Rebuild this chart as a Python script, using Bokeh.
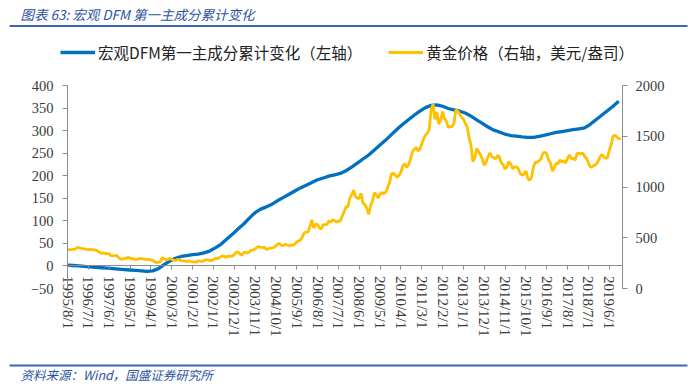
import numpy as np
import pandas as pd
from bokeh.plotting import figure
from bokeh.models import (Range1d, LinearAxis, FixedTicker, Legend, LegendItem, Label,
                          BoxAnnotation, ColumnDataSource)
from bokeh.embed import file_html
from bokeh.resources import INLINE

# ---------------- data ----------------
START = "1995-08-01"
END = "2019-12-01"

tick_labels = ["1995/8/1", "1996/7/1", "1997/6/1", "1998/5/1", "1999/4/1", "2000/3/1",
               "2001/2/1", "2002/1/1", "2002/12/1", "2003/11/1", "2004/10/1", "2005/9/1",
               "2006/8/1", "2007/7/1", "2008/6/1", "2009/5/1", "2010/4/1", "2011/3/1",
               "2012/2/1", "2013/1/1", "2013/12/1", "2014/11/1", "2015/10/1", "2016/9/1",
               "2017/8/1", "2018/7/1", "2019/6/1"]

left_ticks = [-50, 0, 50, 100, 150, 200, 250, 300, 350, 400]
right_ticks = [0, 500, 1000, 1500, 2000]

# gold price, USD/oz, monthly (1995/8 .. 2019/12)
gold_1995 = [383, 383, 383, 386, 387]
gold_1996 = [400, 405, 396, 393, 392, 385, 383, 387, 383, 381, 378, 369]
gold_1997 = [355, 346, 352, 344, 344, 341, 324, 324, 323, 325, 306, 289]
gold_1998 = [289, 297, 296, 308, 299, 292, 293, 284, 289, 296, 294, 291]
gold_1999 = [287, 287, 286, 282, 277, 262, 256, 257, 265, 305, 293, 284]
gold_2000 = [284, 300, 286, 280, 275, 286, 282, 275, 273, 270, 266, 272]
gold_2001 = [266, 262, 263, 261, 272, 270, 268, 273, 283, 283, 276, 276]
gold_2002 = [282, 296, 294, 302, 314, 321, 314, 310, 319, 317, 319, 333]
gold_2003 = [357, 359, 340, 328, 355, 356, 351, 360, 379, 379, 390, 407]
gold_2004 = [414, 405, 406, 404, 384, 392, 398, 401, 406, 420, 439, 442]
gold_2005 = [424, 423, 434, 429, 422, 430, 424, 438, 456, 470, 476, 510]
gold_2006 = [549, 555, 557, 610, 676, 596, 633, 632, 598, 586, 628, 629]
gold_2007 = [631, 665, 655, 679, 667, 655, 665, 665, 712, 754, 806, 803]
gold_2008 = [889, 922, 968, 909, 888, 889, 939, 839, 829, 790, 730, 816]
gold_2009 = [858, 943, 924, 890, 928, 946, 934, 949, 996, 1043, 1127, 1134]
gold_2010 = [1118, 1095, 1113, 1148, 1205, 1232, 1193, 1215, 1271, 1342, 1370, 1391]
gold_2011 = [1356, 1372, 1424, 1474, 1512, 1529, 1573, 1765, 1815, 1666, 1739, 1620]
gold_2012 = [1656, 1743, 1674, 1650, 1585, 1596, 1594, 1626, 1760, 1747, 1722, 1685]
gold_2013 = [1671, 1627, 1593, 1487, 1414, 1250, 1286, 1380, 1349, 1316, 1275, 1215]
gold_2014 = [1244, 1300, 1336, 1299, 1287, 1279, 1311, 1296, 1239, 1222, 1176, 1201]
gold_2015 = [1251, 1227, 1179, 1198, 1199, 1181, 1131, 1117, 1125, 1159, 1086, 1065]
gold_2016 = [1097, 1200, 1246, 1243, 1260, 1276, 1337, 1341, 1326, 1266, 1238, 1157]
gold_2017 = [1192, 1234, 1231, 1266, 1246, 1260, 1236, 1283, 1315, 1280, 1282, 1265]
gold_2018 = [1331, 1331, 1325, 1335, 1303, 1282, 1238, 1195, 1199, 1215, 1221, 1250]
gold_2019 = [1291, 1320, 1301, 1285, 1284, 1359, 1413, 1500, 1511, 1495, 1471, 1480]

# DFM first principal component, cumulative change, quarterly from 1995/8
dfm_values = [2, 1, 0, -1, -2, -3, -4, -5, -6, -7, -8, -9, -10, -11, -12, -11,
              -6, 3, 11, 17, 21, 23, 25, 26, 29, 33, 40, 48, 59, 70, 82, 93,
              106, 118, 126, 131, 137, 145, 152, 159, 166, 173, 179, 185, 191, 195, 199, 202,
              205, 211, 219, 228, 237, 246, 257, 268, 279, 291, 303, 314, 324, 334, 343, 351,
              356, 357, 354, 349, 346, 343, 339, 332, 324, 316, 308, 301, 297, 292, 289, 288,
              286, 285, 285, 287, 290, 293, 296, 298, 300, 302, 304, 306, 314, 324, 334, 344,
              354, 365]

TITLE = "图表 63: 宏观 DFM 第一主成分累计变化"
SOURCE = "资料来源：Wind，国盛证券研究所"
LEG_DFM = "宏观DFM第一主成分累计变化（左轴）"
LEG_GOLD = "黄金价格（右轴，美元/盎司）"

# ---------------- build ----------------
months = pd.date_range(START, END, freq="MS")
gold = (gold_1995 + gold_1996 + gold_1997 + gold_1998 + gold_1999 + gold_2000 + gold_2001 +
        gold_2002 + gold_2003 + gold_2004 + gold_2005 + gold_2006 + gold_2007 + gold_2008 +
        gold_2009 + gold_2010 + gold_2011 + gold_2012 + gold_2013 + gold_2014 + gold_2015 +
        gold_2016 + gold_2017 + gold_2018 + gold_2019)
gold_x = np.arange(len(gold))
dfm_x = np.arange(len(dfm_values)) * 3

def month_index(lab):
    y, m, d = [int(s) for s in lab.split("/")]
    return (y - months[0].year) * 12 + (m - months[0].month)

tick_pos = [month_index(t) for t in tick_labels]

# ---- layout geometry (pixels; the frame covers the whole figure) ----
W, H = 700, 386
X_END = 293                      # category extent of the plot area
PX_LEFT, PX_RIGHT = 67, 622      # plot area left/right edge
PY_TOP, PY_BOT = 85, 288         # plot area top (400 / 2000) and bottom (-50 / 0)
L_LO, L_HI = -50, 400
R_LO, R_HI = 0, 2000

kx = (PX_RIGHT - PX_LEFT) / X_END
x_start = -PX_LEFT / kx
x_end = X_END + (W - PX_RIGHT) / kx
ky = (PY_BOT - PY_TOP) / (L_HI - L_LO)
yl_start = L_LO - (H - PY_BOT) / ky
yl_end = L_HI + PY_TOP / ky
def l2r(v):
    return R_LO + (v - L_LO) * (R_HI - R_LO) / (L_HI - L_LO)

SERIF = "Liberation Serif"
CJK = "Noto Sans CJK SC"
AXIS_GRAY = "#8c8c8c"
TXT = "#3a3a3a"
BLUE_T = "#2E54A1"
RULE = "#3E66B3"

p = figure(width=W, height=H, x_range=Range1d(x_start, x_end), y_range=Range1d(yl_start, yl_end),
           output_backend="svg", toolbar_location=None, x_axis_type=None, y_axis_type=None,
           min_border_left=0, min_border_right=0, min_border_top=0, min_border_bottom=0)
p.outline_line_color = None
p.background_fill_color = "white"
p.border_fill_color = "white"
p.extra_y_ranges = {"right": Range1d(l2r(yl_start), l2r(yl_end))}

def style_axis(ax, size="14px"):
    ax.axis_line_color = AXIS_GRAY
    ax.major_tick_line_color = AXIS_GRAY
    ax.minor_tick_line_color = None
    ax.major_tick_in = 0
    ax.major_tick_out = 5
    ax.major_label_text_font = SERIF
    ax.major_label_text_font_size = size
    ax.major_label_text_color = TXT

yl = LinearAxis(ticker=FixedTicker(ticks=left_ticks), major_label_overrides={-50: "\u221250"},
                fixed_location=0, bounds=(L_LO, L_HI))
style_axis(yl, "14.5px")
yl.major_label_standoff = 9
p.add_layout(yl, "left")

yr = LinearAxis(y_range_name="right", ticker=FixedTicker(ticks=right_ticks),
                fixed_location=X_END, bounds=(R_LO, R_HI))
style_axis(yr, "14.5px")
yr.major_label_standoff = 8
p.add_layout(yr, "right")

xa = LinearAxis(ticker=FixedTicker(ticks=tick_pos),
                major_label_overrides={pos: lab for pos, lab in zip(tick_pos, tick_labels)},
                fixed_location=0, bounds=(0, X_END), major_label_orientation="vertical")
style_axis(xa, "15px")
xa.major_tick_out = 4
xa.major_label_standoff = 6
p.add_layout(xa, "below")

src_dfm = ColumnDataSource(dict(x=dfm_x, y=dfm_values))
src_gold = ColumnDataSource(dict(x=gold_x, y=gold))
r_blue = p.line("x", "y", source=src_dfm, line_color="#0070C0", line_width=3.3)
r_gold = p.line("x", "y", source=src_gold, line_color="#FFC000", line_width=2.8, y_range_name="right")

legend = Legend(items=[LegendItem(label=LEG_DFM, renderers=[r_blue]),
                       LegendItem(label=LEG_GOLD, renderers=[r_gold])],
                location=(60, H - 63), orientation="horizontal")
legend.background_fill_alpha = 0
legend.border_line_alpha = 0
legend.padding = 0
legend.margin = 0
legend.spacing = 26
legend.label_standoff = 3
legend.glyph_width = 35
legend.glyph_height = 20
legend.label_height = 20
legend.label_text_font = CJK
legend.label_text_font_size = "15.5px"
legend.label_text_color = "#222222"
p.add_layout(legend, "center")

# header / footer rules and texts
p.add_layout(BoxAnnotation(left=9, right=687, top=H - 24.5, bottom=H - 26.5,
                           left_units="screen", right_units="screen",
                           top_units="screen", bottom_units="screen",
                           fill_color=RULE, fill_alpha=1, line_color=None))
p.add_layout(BoxAnnotation(left=9, right=687, top=H - 364, bottom=H - 366,
                           left_units="screen", right_units="screen",
                           top_units="screen", bottom_units="screen",
                           fill_color=RULE, fill_alpha=1, line_color=None))
p.add_layout(Label(x=20, y=H - 13, x_units="screen", y_units="screen", text=TITLE,
                   text_font=CJK, text_font_style="italic", text_font_size="13.5px",
                   text_color=BLUE_T, text_baseline="middle", text_align="left"))
p.add_layout(Label(x=20, y=H - 374, x_units="screen", y_units="screen", text=SOURCE,
                   text_font=CJK, text_font_style="italic", text_font_size="12.5px",
                   text_color=BLUE_T, text_baseline="middle", text_align="left"))

open("out.html", "w").write(file_html(p, INLINE))
